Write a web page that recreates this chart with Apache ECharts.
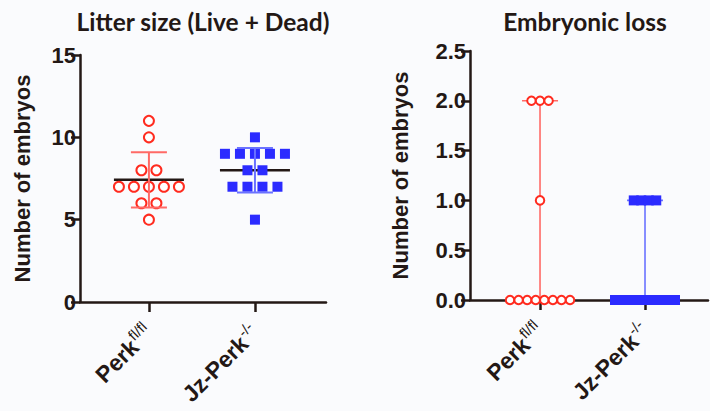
<!DOCTYPE html>
<html>
<head>
<meta charset="utf-8">
<script src="https://cdn.jsdelivr.net/npm/echarts@6/dist/echarts.min.js"></script>
<style>
html,body{margin:0;padding:0;background:#fafbfd;}
#c{width:710px;height:411px;}
</style>
</head>
<body>
<div id="c"></div>
<script>
// ---- data ----
const catNames = ['Perk', 'Jz-Perk'];
const catSup = ['fl/fl', '-/-'];
const catPos = [1, 2];
const litterPerk = [11, 10, 8, 8, 7, 7, 7, 7, 7, 6, 6, 5];
const litterJz = [10, 9, 9, 9, 9, 9, 8, 8, 7, 7, 7, 7, 5];
const lossPerk = [2, 2, 2, 1, 0, 0, 0, 0, 0, 0, 0, 0];
const lossJz = [1, 1, 1, 1, 0, 0, 0, 0, 0, 0, 0, 0, 0];
const litterTicks = [0, 5, 10, 15];
const lossTicks = [0, 0.5, 1.0, 1.5, 2.0, 2.5];
const titles = ['Litter size (Live + Dead)', 'Embryonic loss'];
const yName = 'Number of embryos';

// ---- helpers ----
const INK = '#231815';
const FONT = "'Liberation Sans', Arial, sans-serif";
const RED = '#ff2b1f', RED_BAR = '#ff6a66';
const BLUE = '#2b2bff', BLUE_BAR = '#6a72ff';

function swarm(values, x) {
  const counts = {};
  values.forEach(v => counts[v] = (counts[v] || 0) + 1);
  const maxCount = Math.max.apply(null, Object.values(counts));
  const spacing = maxCount > 1 ? Math.min(15, 60 / (maxCount - 1)) : 0;
  const seen = {};
  return values.map(v => {
    const n = counts[v];
    const i = seen[v] = (seen[v] === undefined ? 0 : seen[v] + 1);
    return { value: [x, v], symbolOffset: [(i - (n - 1) / 2) * spacing, 0] };
  });
}
function mean(a) { return a.reduce((s, v) => s + v, 0) / a.length; }
function sd(a) { const m = mean(a); return Math.sqrt(a.reduce((s, v) => s + (v - m) * (v - m), 0) / (a.length - 1)); }

const litterStats = [litterPerk, litterJz].map((a, i) => [catPos[i], mean(a), sd(a)]);
const lossRange = [lossPerk, lossJz].map((a, i) => [catPos[i], Math.min.apply(null, a), Math.max.apply(null, a)]);
const barColors = [RED_BAR, BLUE_BAR];

function line(x1, y1, x2, y2, color, w) {
  return { type: 'line', shape: { x1, y1, x2, y2 }, style: { stroke: color, lineWidth: w } };
}

const chart = echarts.init(document.getElementById('c'), null, { renderer: 'svg' });

function xAxisCfg(gi, min, max) {
  return {
    type: 'value', gridIndex: gi, min, max,
    splitLine: { show: false },
    axisLine: { show: true, onZero: false, lineStyle: { color: INK, width: 2.5 } },
    axisTick: { show: true, customValues: catPos, length: 10, lineStyle: { color: INK, width: 2.5 } },
    axisLabel: {
      customValues: catPos, rotate: 45, margin: 27,
      formatter: v => { const i = catPos.indexOf(v); return '{m|' + catNames[i] + '}{s|' + catSup[i] + '}'; },
      rich: {
        m: { fontFamily: FONT, fontWeight: 'bold', fontSize: 23, color: INK },
        s: { fontFamily: FONT, fontWeight: 'normal', fontSize: 15, color: INK, verticalAlign: 'top', padding: [0, 0, 14, 1] }
      }
    }
  };
}
function yAxisCfg(gi, ticks, digits, gap) {
  return {
    type: 'value', gridIndex: gi, min: ticks[0], max: ticks[ticks.length - 1],
    interval: ticks[1] - ticks[0],
    splitLine: { show: false },
    axisLine: { show: true, onZero: false, lineStyle: { color: INK, width: 2.5 } },
    axisTick: { show: true, length: 9, lineStyle: { color: INK, width: 2.5 } },
    axisLabel: { margin: 4, fontFamily: FONT, fontWeight: 'bold', fontSize: 22, color: INK,
      formatter: v => v.toFixed(digits) },
    name: yName, nameLocation: 'middle', nameGap: gap,
    nameTextStyle: { fontFamily: FONT, fontWeight: 'bold', fontSize: 22, color: INK }
  };
}

const option = {
  backgroundColor: '#fafbfd',
  animation: false,
  graphic: [
    { type: 'text', x: 203, y: 21, style: { text: titles[0], font: 'bold 24.5px Lato', fill: INK, textAlign: 'center', textVerticalAlign: 'middle' } },
    { type: 'text', x: 585, y: 21, style: { text: titles[1], font: 'bold 24.5px Lato', fill: INK, textAlign: 'center', textVerticalAlign: 'middle' } }
  ],
  grid: [
    { left: 80, top: 55, width: 246, height: 247 },
    { left: 470, top: 51, width: 238, height: 249 }
  ],
  xAxis: [xAxisCfg(0, 0.35, 2.67), xAxisCfg(1, 0.333, 2.6)],
  yAxis: [yAxisCfg(0, litterTicks, 0, 47), yAxisCfg(1, lossTicks, 1, 59)],
  series: [
    { // mean lines
      type: 'custom', xAxisIndex: 0, yAxisIndex: 0, z: 1, data: litterStats,
      renderItem: (params, api) => {
        const p = api.coord([api.value(0), api.value(1)]);
        return line(p[0] - 35, p[1], p[0] + 35, p[1], INK, 2.5);
      }
    },
    { type: 'scatter', xAxisIndex: 0, yAxisIndex: 0, z: 2, symbol: 'emptyCircle', symbolSize: 10,
      itemStyle: { color: RED, borderColor: RED, borderWidth: 2.5, opacity: 1 }, data: swarm(litterPerk, catPos[0]) },
    { type: 'scatter', xAxisIndex: 0, yAxisIndex: 0, z: 2, symbol: 'rect', symbolSize: 10,
      itemStyle: { color: BLUE, opacity: 1 }, data: swarm(litterJz, catPos[1]) },
    { // SD bars
      type: 'custom', xAxisIndex: 0, yAxisIndex: 0, z: 3, data: litterStats,
      renderItem: (params, api) => {
        const x = api.value(0), m = api.value(1), s = api.value(2);
        const t = api.coord([x, m + s]), b = api.coord([x, m - s]);
        const c = barColors[params.dataIndex];
        return { type: 'group', children: [
          line(t[0], t[1], b[0], b[1], c, 2),
          line(t[0] - 18, t[1], t[0] + 18, t[1], c, 2),
          line(b[0] - 18, b[1], b[0] + 18, b[1], c, 2)
        ] };
      }
    },
    { // range bars
      type: 'custom', xAxisIndex: 1, yAxisIndex: 1, z: 1, data: lossRange,
      renderItem: (params, api) => {
        const x = api.value(0), lo = api.value(1), hi = api.value(2);
        const t = api.coord([x, hi]), b = api.coord([x, lo]);
        const c = barColors[params.dataIndex];
        return { type: 'group', children: [
          line(t[0], t[1], b[0], b[1], c, 1.6),
          line(t[0] - 18, t[1], t[0] + 18, t[1], c, 1.6)
        ] };
      }
    },
    { type: 'scatter', xAxisIndex: 1, yAxisIndex: 1, z: 2, symbol: 'emptyCircle', symbolSize: 8.5,
      itemStyle: { color: RED, borderColor: RED, borderWidth: 2, opacity: 1 }, data: swarm(lossPerk, catPos[0]) },
    { type: 'scatter', xAxisIndex: 1, yAxisIndex: 1, z: 2, symbol: 'rect', symbolSize: 10,
      itemStyle: { color: BLUE, opacity: 1 }, data: swarm(lossJz, catPos[1]) }
  ]
};
chart.setOption(option);
</script>
</body>
</html>
